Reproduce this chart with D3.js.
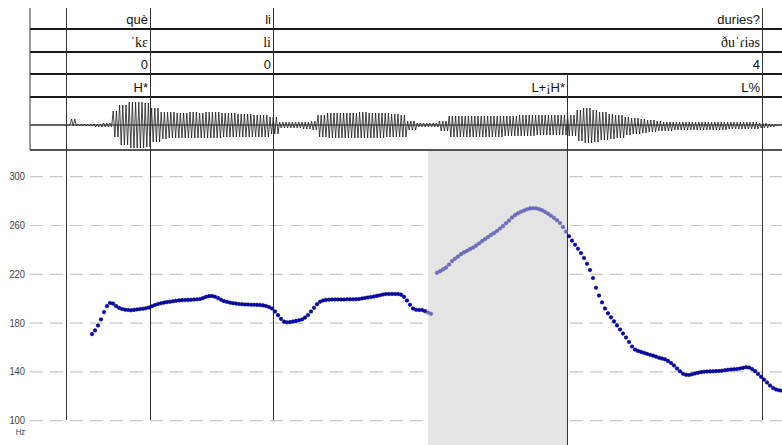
<!DOCTYPE html>
<html><head><meta charset="utf-8">
<script src="https://cdn.jsdelivr.net/npm/d3@7"></script>
<style>body{margin:0;background:#fff;}svg{display:block;}</style>
</head><body>
<svg id="c" width="782" height="445"></svg>
<script>
// ---- data ----
const tierWords = [{end:0.240,text:"què"},{end:0.486,text:"li"},{end:1.464,text:"duries?"}];
const tierIPA   = [{end:0.240,text:"ˈkɛ"},{end:0.486,text:"li"},{end:1.464,text:"ðuˈɾiəs"}];
const tierNum   = [{end:0.240,text:"0"},{end:0.486,text:"0"},{end:1.464,text:"4"}];
const tierTone  = [{end:0.240,text:"H*"},{end:1.074,text:"L+¡H*"},{end:1.464,text:"L%"}];
const boundaries = [0.072,0.240,0.486,1.464];
const toneBoundaries = [1.074];
const selection = [0.796,1.074];
const yTicks = [100,140,180,220,260,300];
const timeDomain = [0,1.504];

// waveform envelope (upper / lower excursion, arbitrary units), every 0.016 s from t=0
const waveStep = 0.016;
const waveTop = [0,0,0,0,0,6,1,1,1,2,14,20,23,23,22,17,13,13,12,12,13,12,13,13,12,12,11,11,10,10,8,3,3,3,3,4,10,12,12,12,12,13,12,12,12,11,10,4,2,2,2,4,9,9,9,9,9,9,9,9,9,10,10,10,10,10,10,10,15,17,15,13,11,10,8,7,6,5,4,3,3,3,3,3,3,3,3,3,3,3,3,2,1,1];
const waveBot = [0,0,0,0,0,1,1,1,2,2,12,20,23,23,22,17,14,13,13,13,13,13,13,13,12,12,12,12,12,12,9,3,3,3,4,5,12,13,13,13,13,13,13,13,12,12,12,5,2,2,2,6,12,12,12,12,12,12,12,11,11,11,11,10,10,10,10,11,16,18,17,15,14,13,10,9,8,7,6,6,5,5,5,5,5,5,5,4,4,4,4,3,2,1];

// pitch (Hz), sampled every 0.006 s
const pitchStep = 0.006;
const pitch1Start = 0.124;
const pitch1 = [171,174,178,183,189,194,196.5,196,194,192.5,191.5,191,190.7,190.5,190.8,191.2,191.5,191.8,192.2,192.8,193.8,194.8,195.7,196.3,196.8,197.2,197.5,197.9,198.3,198.6,198.8,198.9,199,199.1,199.3,199.5,199.8,200.5,201.5,202.1,202.2,201.6,200.5,199.2,198,197.4,196.8,196.3,196,195.7,195.5,195.3,195.2,195.1,195,194.9,194.8,194.5,194,193.2,192,189.5,186.5,183.5,181.2,180.6,180.8,181.3,181.8,182.3,183,184.5,186.7,189.5,192.5,195.5,197.5,198.5,199,199.2,199.4,199.4,199.4,199.4,199.4,199.5,199.5,199.5,199.6,199.8,200.2,200.6,201,201.4,201.8,202.3,202.8,203.4,203.8,203.9,203.9,203.9,203.8,203.3,201.5,198.5,195,192,190.9,190.7,190.7,189.8,188.6,187.6];
const pitch2Start = 0.814;
const pitch2 = [221.3,222.5,224,225.5,228,230.8,232.8,234.5,236.5,238,239.3,240.6,241.9,243.5,245.3,247.2,248.8,250.5,252.3,253.8,255.5,257.5,259.5,261.8,264,266.5,268.5,270,271.3,272.3,273.3,274,274.2,274.1,273.5,272.5,271.2,269.7,268,266.2,264.3,262,258.8,255,251.2,247.6,244.2,241,237.4,233.4,228.6,223.5,217,209,202.6,197,192,188,184.7,181.4,178.1,174.8,171.5,168.2,164.5,160.8,158.3,157.2,156.4,155.6,154.8,154,153.3,152.5,151.6,150.9,150.3,149,147.3,145.3,142.8,140.5,138.5,137.6,137.4,138,138.7,139.3,139.8,140.1,140.3,140.4,140.5,140.6,140.7,141,141.4,141.7,142,142.2,142.4,142.8,143.3,143.8,143.6,142.4,140.6,138.3,136,133.7,131.3,128.9,126.8,125.6,124.9,124.6];

// ---- drawing ----
const svg = d3.select("#c");
const W = 782, H = 445;
const x = d3.scaleLinear().domain(timeDomain).range([30, 782]);
const yP = d3.scaleLinear().domain([100,300]).range([420.7,176.7]);
const yW = d3.scaleLinear().domain([-25,25]).range([150,100]);

// tiers
const rowTops = [8, 29, 52, 74, 97];
const tiers = [
  {data:tierWords, font:"'Liberation Sans', Arial, sans-serif", size:13},
  {data:tierIPA, font:"'Liberation Serif', 'DejaVu Serif', serif", size:14},
  {data:tierNum, font:"'Liberation Sans', Arial, sans-serif", size:13},
  {data:tierTone, font:"'Liberation Sans', Arial, sans-serif", size:13}
];
tiers.forEach((tr, i) => {
  svg.selectAll(null).data(tr.data).enter().append("text")
    .attr("x", d => x(d.end) - 2)
    .attr("y", rowTops[i+1] - 5)
    .attr("text-anchor","end")
    .attr("font-family", tr.font)
    .attr("font-size", tr.size)
    .attr("fill","#111")
    .text(d => d.text);
});

// gridlines
svg.selectAll(".grid").data(yTicks).enter().append("line")
  .attr("x1",30).attr("x2",W)
  .attr("y1",d=>yP(d)).attr("y2",d=>yP(d))
  .attr("stroke","#c8c8c8").attr("stroke-width",1.2)
  .attr("stroke-dasharray","13,7");

// selection shading
svg.append("rect")
  .attr("x", x(selection[0])).attr("y",150)
  .attr("width", x(selection[1]) - x(selection[0])).attr("height", H-150)
  .attr("fill","#e4e4e4");

// waveform: zig-zag between the read envelope values
const period = waveStep / 2.5;
const wavePts = [];
for (let t = 0; t < waveTop.length * waveStep; t += period) {
  const i = Math.min(waveTop.length - 1, Math.floor(t / waveStep));
  wavePts.push([t, waveTop[i]]);
  wavePts.push([t + period/2, -waveBot[i]]);
}
svg.append("line").attr("x1",30).attr("x2",W).attr("y1",yW(0)).attr("y2",yW(0))
  .attr("stroke","#222").attr("stroke-width",1);
svg.append("path")
  .attr("d", d3.line().x(d=>x(d[0])).y(d=>yW(d[1]))(wavePts.filter(d=>x(d[0])<=W)))
  .attr("fill","none").attr("stroke","#1a1a1a").attr("stroke-width",0.8);

// horizontal tier lines
svg.selectAll(".hl").data(rowTops.slice(1)).enter().append("line")
  .attr("x1",30).attr("x2",W).attr("y1",d=>d).attr("y2",d=>d)
  .attr("stroke","#1a1a1a").attr("stroke-width",2);
svg.append("line").attr("x1",30).attr("x2",W).attr("y1",150).attr("y2",150)
  .attr("stroke","#555").attr("stroke-width",2);
svg.append("line").attr("x1",30).attr("x2",30).attr("y1",8).attr("y2",150)
  .attr("stroke","#333").attr("stroke-width",1);

// boundaries
svg.selectAll(".vb").data(boundaries).enter().append("line")
  .attr("x1",d=>Math.round(x(d))+0.5).attr("x2",d=>Math.round(x(d))+0.5)
  .attr("y1",8).attr("y2",420)
  .attr("stroke","#333").attr("stroke-width",1);
svg.selectAll(".vt").data(toneBoundaries).enter().append("line")
  .attr("x1",d=>Math.round(x(d))+0.5).attr("x2",d=>Math.round(x(d))+0.5)
  .attr("y1",74).attr("y2",445)
  .attr("stroke","#333").attr("stroke-width",1);

// y labels
svg.selectAll(".yl").data(yTicks).enter().append("text")
  .attr("x",25).attr("y",d=>yP(d)+3.5)
  .attr("text-anchor","end")
  .attr("font-family","'Liberation Sans', Arial, sans-serif")
  .attr("font-size",11).attr("fill","#444")
  .attr("transform", `translate(25,0) scale(0.85,1) translate(-25,0)`)
  .text(d=>d);
svg.append("text").attr("x",25).attr("y",yP(100)+14.5)
  .attr("text-anchor","end")
  .attr("font-family","'Liberation Sans', Arial, sans-serif")
  .attr("font-size",9).attr("fill","#444")
  .attr("transform", `translate(25,0) scale(0.85,1) translate(-25,0)`)
  .text("Hz");

// pitch points
const pts = pitch1.map((f,i)=>({t:pitch1Start+i*pitchStep,f}))
  .concat(pitch2.map((f,i)=>({t:pitch2Start+i*pitchStep,f})))
  .filter(d => x(d.t) <= W);
const inSel = d => d.t >= selection[0] && d.t <= selection[1];
svg.selectAll(".pp").data(pts).enter().append("circle")
  .attr("cx",d=>x(d.t)).attr("cy",d=>yP(d.f)).attr("r",1.8)
  .attr("fill",d=>inSel(d)?"#6c6cc2":"#0000d0")
  .attr("stroke",d=>inSel(d)?"#5a5aa6":"#000030")
  .attr("stroke-width",0.5);
</script>
</body></html>
